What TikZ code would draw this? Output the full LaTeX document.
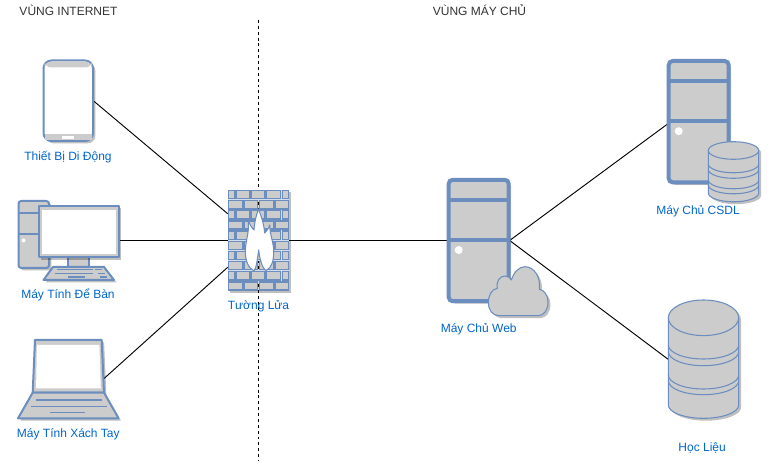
\documentclass[tikz,border=0pt]{standalone}
\usepackage{fontspec}
\setmainfont{Liberation Sans}
\usepackage{xcolor}
\usetikzlibrary{shadows,positioning}
\definecolor{iconblue}{HTML}{6C8EBF}
\definecolor{icongray}{HTML}{CCCCCC}
\definecolor{labelblue}{HTML}{0066CC}
\definecolor{zonegray}{HTML}{333333}

\begin{document}
\begin{tikzpicture}[
    x=0.75pt, y=-0.75pt,
    icon/.style={rectangle, inner sep=0pt},
    softshadow/.style={drop shadow={shadow xshift=1.8pt, shadow yshift=-1.8pt, opacity=0.25, fill=black}},
    thinshape/.style={draw=iconblue, fill=icongray, line width=0.8pt, line join=round},
    midshape/.style={draw=iconblue, fill=icongray, line width=1.5pt, line join=round},
    keyline/.style={draw=iconblue, line width=1.1pt},
    brick/.style={draw=iconblue, fill=icongray, line width=1pt},
    devicetext/.style={inner sep=0pt, text height=7pt, text depth=2pt, text=labelblue, font=\fontsize{9}{11}\selectfont},
    zonetext/.style={inner sep=0pt, text=zonegray, font=\fontsize{9}{11}\selectfont},
    link/.style={draw=black, line width=0.7pt},
    server/.pic={
        \path [draw=iconblue, fill=icongray, line width=3pt, rounded corners=3pt, softshadow] (-30,-60.7) rectangle (30,60.7);
        \draw [iconblue, line width=3pt] (-30,-40.5) -- (30,-40.5);
        \draw [iconblue, line width=3pt] (-30,-0.5) -- (30,-0.5);
        \fill [white] (-20,9.5) circle (4);
    }
]
    \useasboundingbox (0,0) rectangle (770,473);

    \node [zonetext] (zoneinternet) at (68.5,10) {VÙNG INTERNET};
    \node [zonetext] (zoneserver) at (479.5,10) {VÙNG MÁY CHỦ};

    \node [icon, minimum width=37.5pt, minimum height=60.75pt] (phone) at (68,100.7) {};
    \node [icon, minimum width=75.75pt, minimum height=59.25pt] (desktop) at (68.5,240.5) {};
    \node [icon, minimum width=76pt, minimum height=58.7pt] (laptop) at (68.3,379.2) {};
    \node [icon, minimum width=45.75pt, minimum height=75.75pt] (wall) at (258.5,240.5) {};
    \node [icon, minimum width=46pt, minimum height=93.3pt] (webserver) at (478.7,240.5) {};
    \node [icon, minimum width=46pt, minimum height=93.3pt] (dbserver) at (698.7,121.7) {};
    \node [icon, minimum width=52.8pt, minimum height=88.7pt] (dataset) at (703.5,359.2) {};
    \coordinate (laptopedge) at (103.5,379);
    \coordinate (zonetop) at (258.5,20);
    \coordinate (zonebottom) at (258.5,461);

    \draw [link] (phone.east) -- (wall.139);
    \draw [link] (desktop.east) -- (wall.west);
    \draw [link] (laptopedge) -- (wall.221);
    \draw [link] (wall.east) -- (webserver.west);
    \draw [link] (webserver.east) -- (dbserver.184);
    \draw [link] (webserver.east) -- (dataset.west);

    % phone
    \path [draw=iconblue, fill=white, line width=1.5pt, rounded corners=6pt, softshadow] (43.5,60.5) rectangle (93,141);
    \path [fill=icongray, rounded corners=5pt] (44.5,61.5) -- (92,61.5) -- (92,67.5) -- (44.5,67.5) -- cycle;
    \fill [icongray] (44.5,134) rectangle (92,140);
    \fill [white] (62,136) rectangle (74,139);

    % desktop
    \path [midshape, rounded corners=2pt, softshadow] (18.5,201) rectangle (49,268);
    \draw [keyline, line width=1.5pt] (18.5,212.7) -- (49,212.7);
    \draw [keyline, line width=1.5pt] (18.5,234.3) -- (49,234.3);
    \fill [white] (23.5,240.5) circle (2);
    \path [midshape] (68,257) rectangle (89,267);
    \path [midshape, softshadow] (38.5,206) rectangle (119,257.5);
    \fill [white] (41.5,210) rectangle (115.5,254);
    \path [midshape, softshadow] (43.5,280) -- (114,280) -- (104,267) -- (53,267) -- cycle;
    \draw [keyline] (56.7,269.7) -- (93,269.7);
    \draw [keyline] (95,269.7) -- (102,269.7);
    \draw [keyline] (55,273.4) -- (93,273.4);
    \draw [keyline] (98,273.4) -- (105,273.4);
    \draw [keyline] (68,276.8) -- (85,276.8);
    \draw [keyline] (100,276.8) -- (107,276.8);

    % laptop
    \path [midshape, softshadow] (35,340) -- (101.7,340) -- (104,392.7) -- (32.7,392.7) -- cycle;
    \fill [white] (36.9,345) -- (99.4,345) -- (100.8,388.5) -- (36.1,388.5) -- cycle;
    \path [midshape, softshadow] (32.7,392.7) -- (104,392.7) -- (118.6,418.3) -- (18,418.3) -- cycle;
    \draw [keyline] (35.7,400) -- (102.3,400);
    \draw [keyline] (31,406.7) -- (106.7,406.7);
    \draw [keyline] (50,412.4) -- (85,412.4);

    % firewall, the zone line shows between the bricks
    \path [fill=iconblue!30, softshadow] (228,190) rectangle (289,291);
    \draw [link, dashed, dash pattern=on 2.2pt off 2.2pt] (zonetop) -- (zonebottom);
    \foreach \row in {0,2,4,6,8} {
        \foreach \xa/\xb in {228.7/235,236.7/250,251.7/265,266.7/280.7,282.3/288.3}
            \draw [brick] (\xa,{190.5+\row*10.15}) rectangle (\xb,{198.7+\row*10.15});
    }
    \foreach \row in {1,3,5,7,9} {
        \foreach \xa/\xb in {228.7/242.3,244/257.7,259.3/273.3,275/288.3}
            \draw [brick] (\xa,{190.5+\row*10.15}) rectangle (\xb,{198.7+\row*10.15});
    }
    \draw [draw=iconblue, fill=white, line width=0.8pt, line join=round]
        (254,271) .. controls (248,268) and (245.3,260) .. (245.3,251.7)
        .. controls (245.3,240) and (250,232) .. (248,220)
        .. controls (250,225) and (252,228) .. (254,230)
        .. controls (254.5,222) and (256,216) .. (258.5,209)
        .. controls (262,218) and (264,225) .. (264.7,233)
        .. controls (266.5,231) and (268.5,229) .. (269.7,225)
        .. controls (270,236) and (273.7,242) .. (273.7,251.7)
        .. controls (273.7,260) and (272,268) .. (266,270.5)
        .. controls (262,268) and (259.5,258) .. (258.7,250)
        .. controls (257.5,258) and (256.5,268) .. (254,271) -- cycle;

    % web server
    \pic at (webserver.center) {server};
    \path [thinshape, softshadow] (499,315.7)
        .. controls (492,315.7) and (488.3,309) .. (488.3,303)
        .. controls (488.3,295) and (492,289) .. (497.3,288.3)
        .. controls (496,281) and (500,276) .. (505,276)
        .. controls (508,276) and (510.5,278) .. (511.3,280)
        .. controls (514,272) and (519,266.7) .. (525,266.7)
        .. controls (534,266.7) and (541,277) .. (539.3,289.3)
        .. controls (544,290) and (548,295) .. (548,302)
        .. controls (548,310) and (544,315.7) .. (538,315.7) -- cycle;

    % db server
    \pic at (dbserver.center) {server};
    \path [thinshape, softshadow] (708.3,150.5) arc [start angle=180, end angle=360, x radius=25.2, y radius=8.8]
        -- (758.7,193) arc [start angle=0, end angle=180, x radius=25.2, y radius=8.8] -- cycle;
    \foreach \ya in {150.5,164,169.5,180,185}
        \draw [iconblue, line width=0.8pt] (708.3,\ya) arc [start angle=180, end angle=0, x radius=25.2, y radius=8.8];

    % storage
    \path [thinshape, softshadow] (668.3,317.8) arc [start angle=180, end angle=360, x radius=35.2, y radius=17.8]
        -- (738.7,405) arc [start angle=0, end angle=180, x radius=35.2, y radius=13.3] -- cycle;
    \draw [iconblue, line width=0.8pt] (668.3,317.8) arc [start angle=180, end angle=0, x radius=35.2, y radius=17.8];
    \foreach \ya in {345,351.7,375,380.7}
        \draw [iconblue, line width=0.8pt] (668.3,\ya) arc [start angle=180, end angle=0, x radius=35.2, y radius=14];

    \node [devicetext, below=7.2pt of phone] (phonelabel) {Thiết Bị Di Động};
    \node [devicetext, below=6.3pt of desktop, xshift=-0.4pt] (desktoplabel) {Máy Tính Để Bàn};
    \node [devicetext, below=7.2pt of laptop] (laptoplabel) {Máy Tính Xách Tay};
    \node [devicetext, below=6.3pt of wall] (walllabel) {Tường Lửa};
    \node [devicetext, below=15.3pt of webserver] (weblabel) {Máy Chủ Web};
    \node [devicetext, below=15.7pt of dbserver, xshift=-0.5pt] (dblabel) {Máy Chủ CSDL};
    \node [devicetext, below=17.3pt of dataset, xshift=-1pt] (datasetlabel) {Học Liệu};
\end{tikzpicture}
\end{document}
